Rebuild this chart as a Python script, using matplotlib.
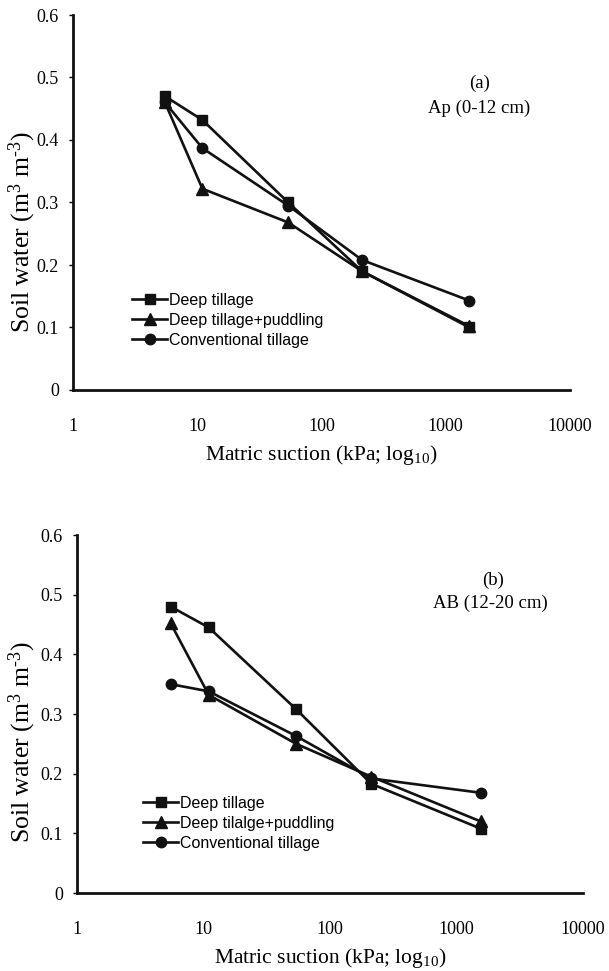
import matplotlib
matplotlib.use('Agg')
import matplotlib.pyplot as plt

plt.rcParams['mathtext.fontset'] = 'custom'
plt.rcParams['mathtext.rm'] = 'Liberation Serif'
plt.rcParams['mathtext.it'] = 'Liberation Serif:italic'

# Data
suction = [5.5, 11, 54, 212, 1550]

a_deep = [0.470, 0.432, 0.300, 0.190, 0.100]
a_puddle = [0.460, 0.322, 0.268, 0.190, 0.102]
a_conv = [0.460, 0.387, 0.295, 0.208, 0.143]

b_deep = [0.480, 0.445, 0.308, 0.183, 0.108]
b_puddle = [0.452, 0.332, 0.250, 0.195, 0.120]
b_conv = [0.350, 0.338, 0.263, 0.192, 0.168]

labels_a = ['Deep tillage', 'Deep tillage+puddling', 'Conventional tillage']
labels_b = ['Deep tillage', 'Deep tilalge+puddling', 'Conventional tillage']
panel_tags = ['(a)', '(b)']
horizons = ['Ap (0-12 cm)', 'AB (12-20 cm)']
yticks = [0, 0.1, 0.2, 0.3, 0.4, 0.5, 0.6]
ytick_labels = ['0', '0.1', '0.2', '0.3', '0.4', '0.5', '0.6']
xticks = [1, 10, 100, 1000, 10000]
xtick_labels = ['1', '10', '100', '1000', '10000']

SERIF = 'Liberation Serif'
SANS = 'Liberation Sans'
W, H = 609, 971

fig = plt.figure(figsize=(W / 100, H / 100), dpi=100)

# axes boxes in pixels: left, right, bottom(y of 0), top(y of 0.6)
boxes = [(73, 570, 390, 15), (77, 583, 893, 535)]
legend_pos = [(132, 293), (143, 796)]
text_pos = [((480, 83), (428, 108)), ((493, 580), (433, 603))]
ylabel_y = [232, 742]

panels = [(a_deep, a_puddle, a_conv, labels_a), (b_deep, b_puddle, b_conv, labels_b)]
markers = ['s', '^', 'o']
msizes = [7.5, 8, 7.5]

for i, (deep, puddle, conv, labels) in enumerate(panels):
    l, r, b, t = boxes[i]
    ax = fig.add_axes([l / W, 1 - b / H, (r - l) / W, (b - t) / H])
    for ys, m, ms, lab in zip([deep, puddle, conv], markers, msizes, labels):
        ax.plot(suction, ys, color='#111111', linewidth=1.9, marker=m,
                markersize=ms, label=lab)
    ax.set_xscale('log')
    ax.set_xlim(1, 10000)
    ax.set_ylim(0, 0.6)
    ax.set_xticks(xticks)
    ax.set_xticklabels(xtick_labels, fontfamily=SERIF, fontsize=13)
    ax.minorticks_off()
    ax.set_yticks(yticks)
    ax.set_yticklabels(ytick_labels, fontfamily=SERIF, fontsize=13)
    ax.tick_params(axis='x', length=0, pad=20)
    ax.tick_params(axis='y', length=3, width=1, pad=7, direction='out')
    for s in ['top', 'right']:
        ax.spines[s].set_visible(False)
    for s in ['left', 'bottom']:
        ax.spines[s].set_linewidth(2)
        ax.spines[s].set_color('#111111')

    ax.set_xlabel('Matric suction (kPa; log$_{10}$)', fontfamily=SERIF, fontsize=15.5,
                  labelpad=6)
    ax.set_ylabel('Soil water (m$^{3}$ m$^{\u2010 3}$)', fontfamily=SERIF, fontsize=18.5)
    ax.yaxis.set_label_coords(38 / W, 1 - ylabel_y[i] / H, transform=fig.transFigure)

    (tx, ty), (hx, hy) = text_pos[i]
    fig.text(tx / W, 1 - ty / H, panel_tags[i], fontfamily=SERIF, fontsize=13.5,
             ha='center', va='center')
    fig.text(hx / W, 1 - hy / H, horizons[i], fontfamily=SERIF, fontsize=13.5,
             ha='left', va='center')

    lx, ly = legend_pos[i]
    ax.legend(loc='upper left', bbox_to_anchor=(lx / W, 1 - ly / H),
              bbox_transform=fig.transFigure, frameon=False, borderpad=0,
              borderaxespad=0, handlelength=2.2, handletextpad=0.1,
              labelspacing=0.3, prop={'family': SANS, 'size': 11.5})

fig.savefig('out.png', dpi=100)
